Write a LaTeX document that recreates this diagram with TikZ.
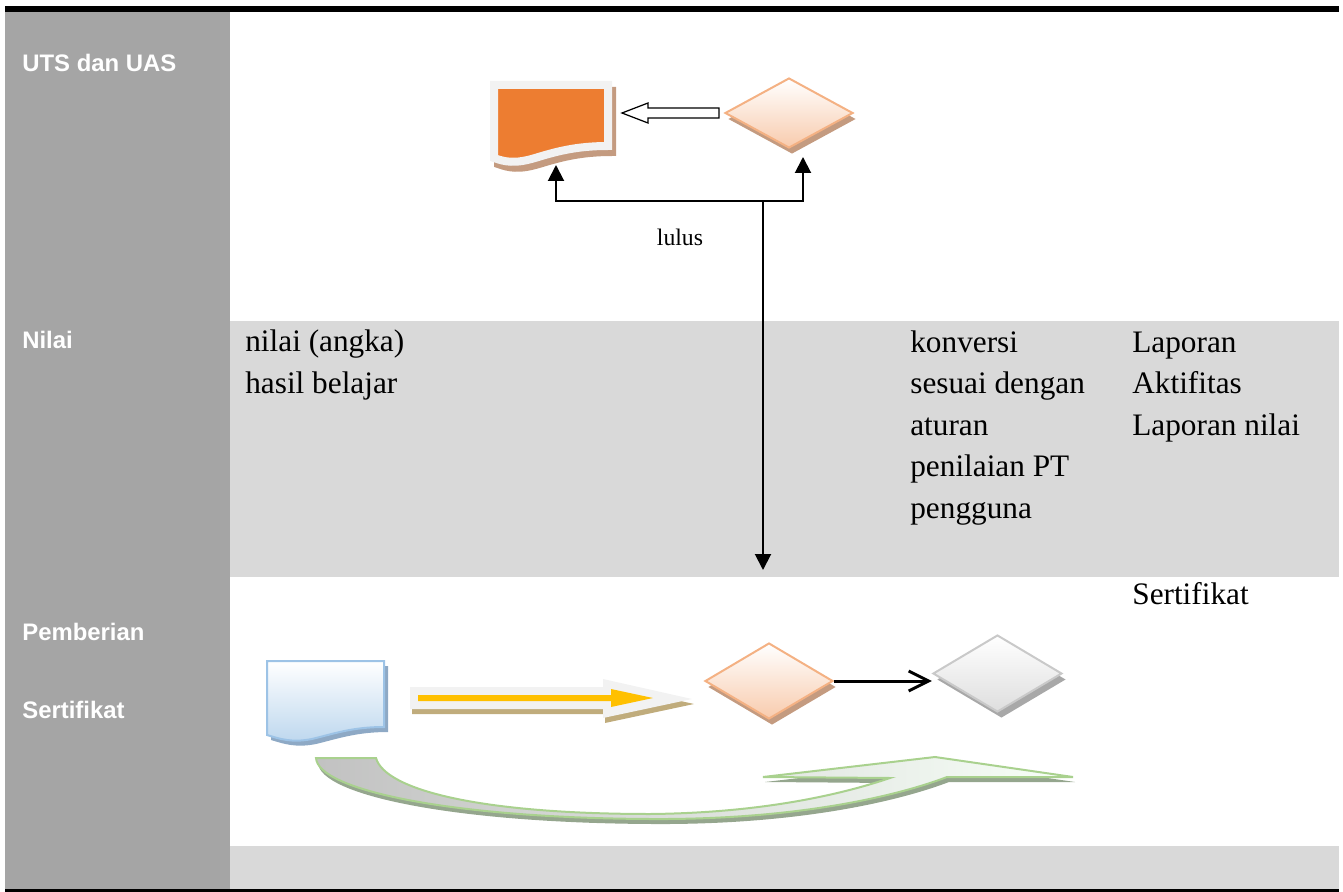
\documentclass[tikz,border=0pt]{standalone}
\usepackage{fontspec}
\setmainfont{Liberation Serif}
\newfontfamily\lanefont{Liberation Sans}
\usetikzlibrary{arrows.meta,positioning,shapes.geometric,shadows}

\definecolor{laneDark}{HTML}{A5A5A5}
\definecolor{laneLight}{HTML}{D9D9D9}
\definecolor{docOrange}{HTML}{ED7D31}
\definecolor{rimGray}{HTML}{F2F2F2}
\definecolor{shTan}{HTML}{C49B80}
\definecolor{diaLine}{HTML}{F4B183}
\definecolor{diaFill}{HTML}{F8CBAD}
\definecolor{docBlueLine}{HTML}{9DC3E6}
\definecolor{docBlueFill}{HTML}{BDD7EE}
\definecolor{shBlue}{HTML}{8EA9C5}
\definecolor{arrYellow}{HTML}{FFC000}
\definecolor{shOlive}{HTML}{C0AC7C}
\definecolor{grayLine}{HTML}{C9C9C9}
\definecolor{grayFill}{HTML}{DEDEDE}
\definecolor{shGray}{HTML}{A8A8A8}
\definecolor{greenLine}{HTML}{A9D18E}
\definecolor{shGreen}{HTML}{95A68E}

\tikzset{
  lane/.style={font=\lanefont\bfseries\fontsize{13.6}{16}\selectfont, text=white, anchor=base west, inner sep=0pt},
  body/.style={font=\fontsize{17.8}{23.6}\selectfont, anchor=base west, align=left, inner sep=0pt},
  diamBase/.style={diamond, line width=0.04cm, top color=white, minimum width=2.56cm, minimum height=1.4cm, inner sep=0pt},
  orangeDia/.style={diamBase, draw=diaLine, bottom color=diaFill, drop shadow={shadow xshift=0.06cm, shadow yshift=-0.12cm, fill=shTan, opacity=1}},
  grayDia/.style={diamBase, draw=grayLine, bottom color=grayFill, drop shadow={shadow xshift=0.08cm, shadow yshift=-0.12cm, fill=shGray, opacity=1}},
  conn/.style={line width=0.04cm, -{Triangle[length=0.32cm, width=0.32cm]}},
}

\begin{document}
\begin{tikzpicture}[x=0.02cm, y=-0.02cm]
    \useasboundingbox (0,0) rectangle (1343,892);
    % lanes
    \fill (5,6) rectangle (1339,12);
    \fill[laneDark] (5,12) rectangle (230,889);
    \fill[laneLight] (230,321) rectangle (1339,577);
    \fill[laneLight] (230,846) rectangle (1339,889);
    \fill (5,889) rectangle (1339,892);
    \node[lane] (uts) at (22,72) {UTS dan UAS};
    \node[lane] (nilai) at (22,348) {Nilai};
    \node[lane] (pemberian) at (22,640) {Pemberian};
    \node[lane] (sertifikat) at (22,718) {Sertifikat};

    % texts (anchored at the last line)
    \node[body] (angka) at (245,393) {nilai (angka)\\hasil belajar};
    \node[body] (konversi) at (910,518) {konversi\\sesuai dengan\\aturan\\penilaian PT\\pengguna};
    \node[body] (laporan) at (1132,435) {Laporan\\Aktifitas\\Laporan nilai};
    \node[body] (sertTxt) at (1132,604) {Sertifikat};
    \node[font=\fontsize{13.5}{16}\selectfont, anchor=base, inner sep=0pt] (lulus) at (680,245) {lulus};

    % UTS dan UAS
    \path[fill=shTan, draw=shTan, line width=0.16cm, shift={(4,6)}] (494,85) -- (608,85) -- (608,146) .. controls (575,146) and (555,152) .. (535,158) .. controls (515,164) and (505,162) .. (494,158) -- cycle;
    \path[fill=docOrange, draw=rimGray, line width=0.16cm] (494,85) -- (608,85) -- (608,146) .. controls (575,146) and (555,152) .. (535,158) .. controls (515,164) and (505,162) .. (494,158) -- cycle;
    \node[orangeDia] (cek) at (789,113) {};
    \draw[fill=white, line width=0.025cm] (719,108) -- (648,108) -- (648,103) -- (622,113) -- (648,123) -- (648,118) -- (719,118) -- cycle;

    \coordinate (split) at (763,201);
    \coordinate (docIn) at (556,165);
    \coordinate (cekIn) at (803,157);
    \coordinate (bandEnd) at (763,570);
    \draw[conn] (split) -| (docIn);
    \draw[conn] (split) -| (cekIn);
    \draw[conn] (split) -- (bandEnd);

    % Pemberian Sertifikat
    \path[fill=shBlue, shift={(4,5)}] (267,661) -- (384,661) -- (384,727) .. controls (352,727) and (333,734) .. (312,739) .. controls (292,743) and (280,739) .. (267,735) -- cycle;
    \path[draw=docBlueLine, top color=white, bottom color=docBlueFill, line width=0.04cm] (267,661) -- (384,661) -- (384,727) .. controls (352,727) and (333,734) .. (312,739) .. controls (292,743) and (280,739) .. (267,735) -- cycle;

    \fill[shOlive, shift={(2,5)}] (410,687) -- (603,687) -- (603,679) -- (692,699) -- (603,718) -- (603,709) -- (410,709) -- cycle;
    \fill[rimGray] (410,687) -- (603,687) -- (603,679) -- (692,699) -- (603,718) -- (603,709) -- (410,709) -- cycle;
    \fill[arrYellow] (418,695) -- (611,695) -- (611,689) -- (653,698) -- (611,707) -- (611,701) -- (418,701) -- cycle;

    \node[orangeDia, minimum height=1.52cm] (proses) at (769,681) {};
    \node[grayDia, minimum width=2.58cm, minimum height=1.54cm, right=1.96cm of proses, yshift=0.15cm] (cetak) {};
    \draw[line width=0.06cm, -{Straight Barb[length=0.4cm, width=0.4cm]}] (proses.east) -- (proses.east -| cetak.west);

    \fill[shGreen, shift={(2,5)}] (316,758) -- (376,758) .. controls (385,790) and (480,814) .. (650,814) .. controls (760,813) and (840,795) .. (890,778) -- (763,777) -- (935,757) -- (1073,777) -- (947,777) .. controls (900,795) and (800,820) .. (650,819) .. controls (450,818) and (318,790) .. cycle;
    \path[draw=greenLine, line width=0.04cm, left color=black!24, right color=green!3] (316,758) -- (376,758) .. controls (385,790) and (480,814) .. (650,814) .. controls (760,813) and (840,795) .. (890,778) -- (763,777) -- (935,757) -- (1073,777) -- (947,777) .. controls (900,795) and (800,820) .. (650,819) .. controls (450,818) and (318,790) .. cycle;
\end{tikzpicture}
\end{document}
